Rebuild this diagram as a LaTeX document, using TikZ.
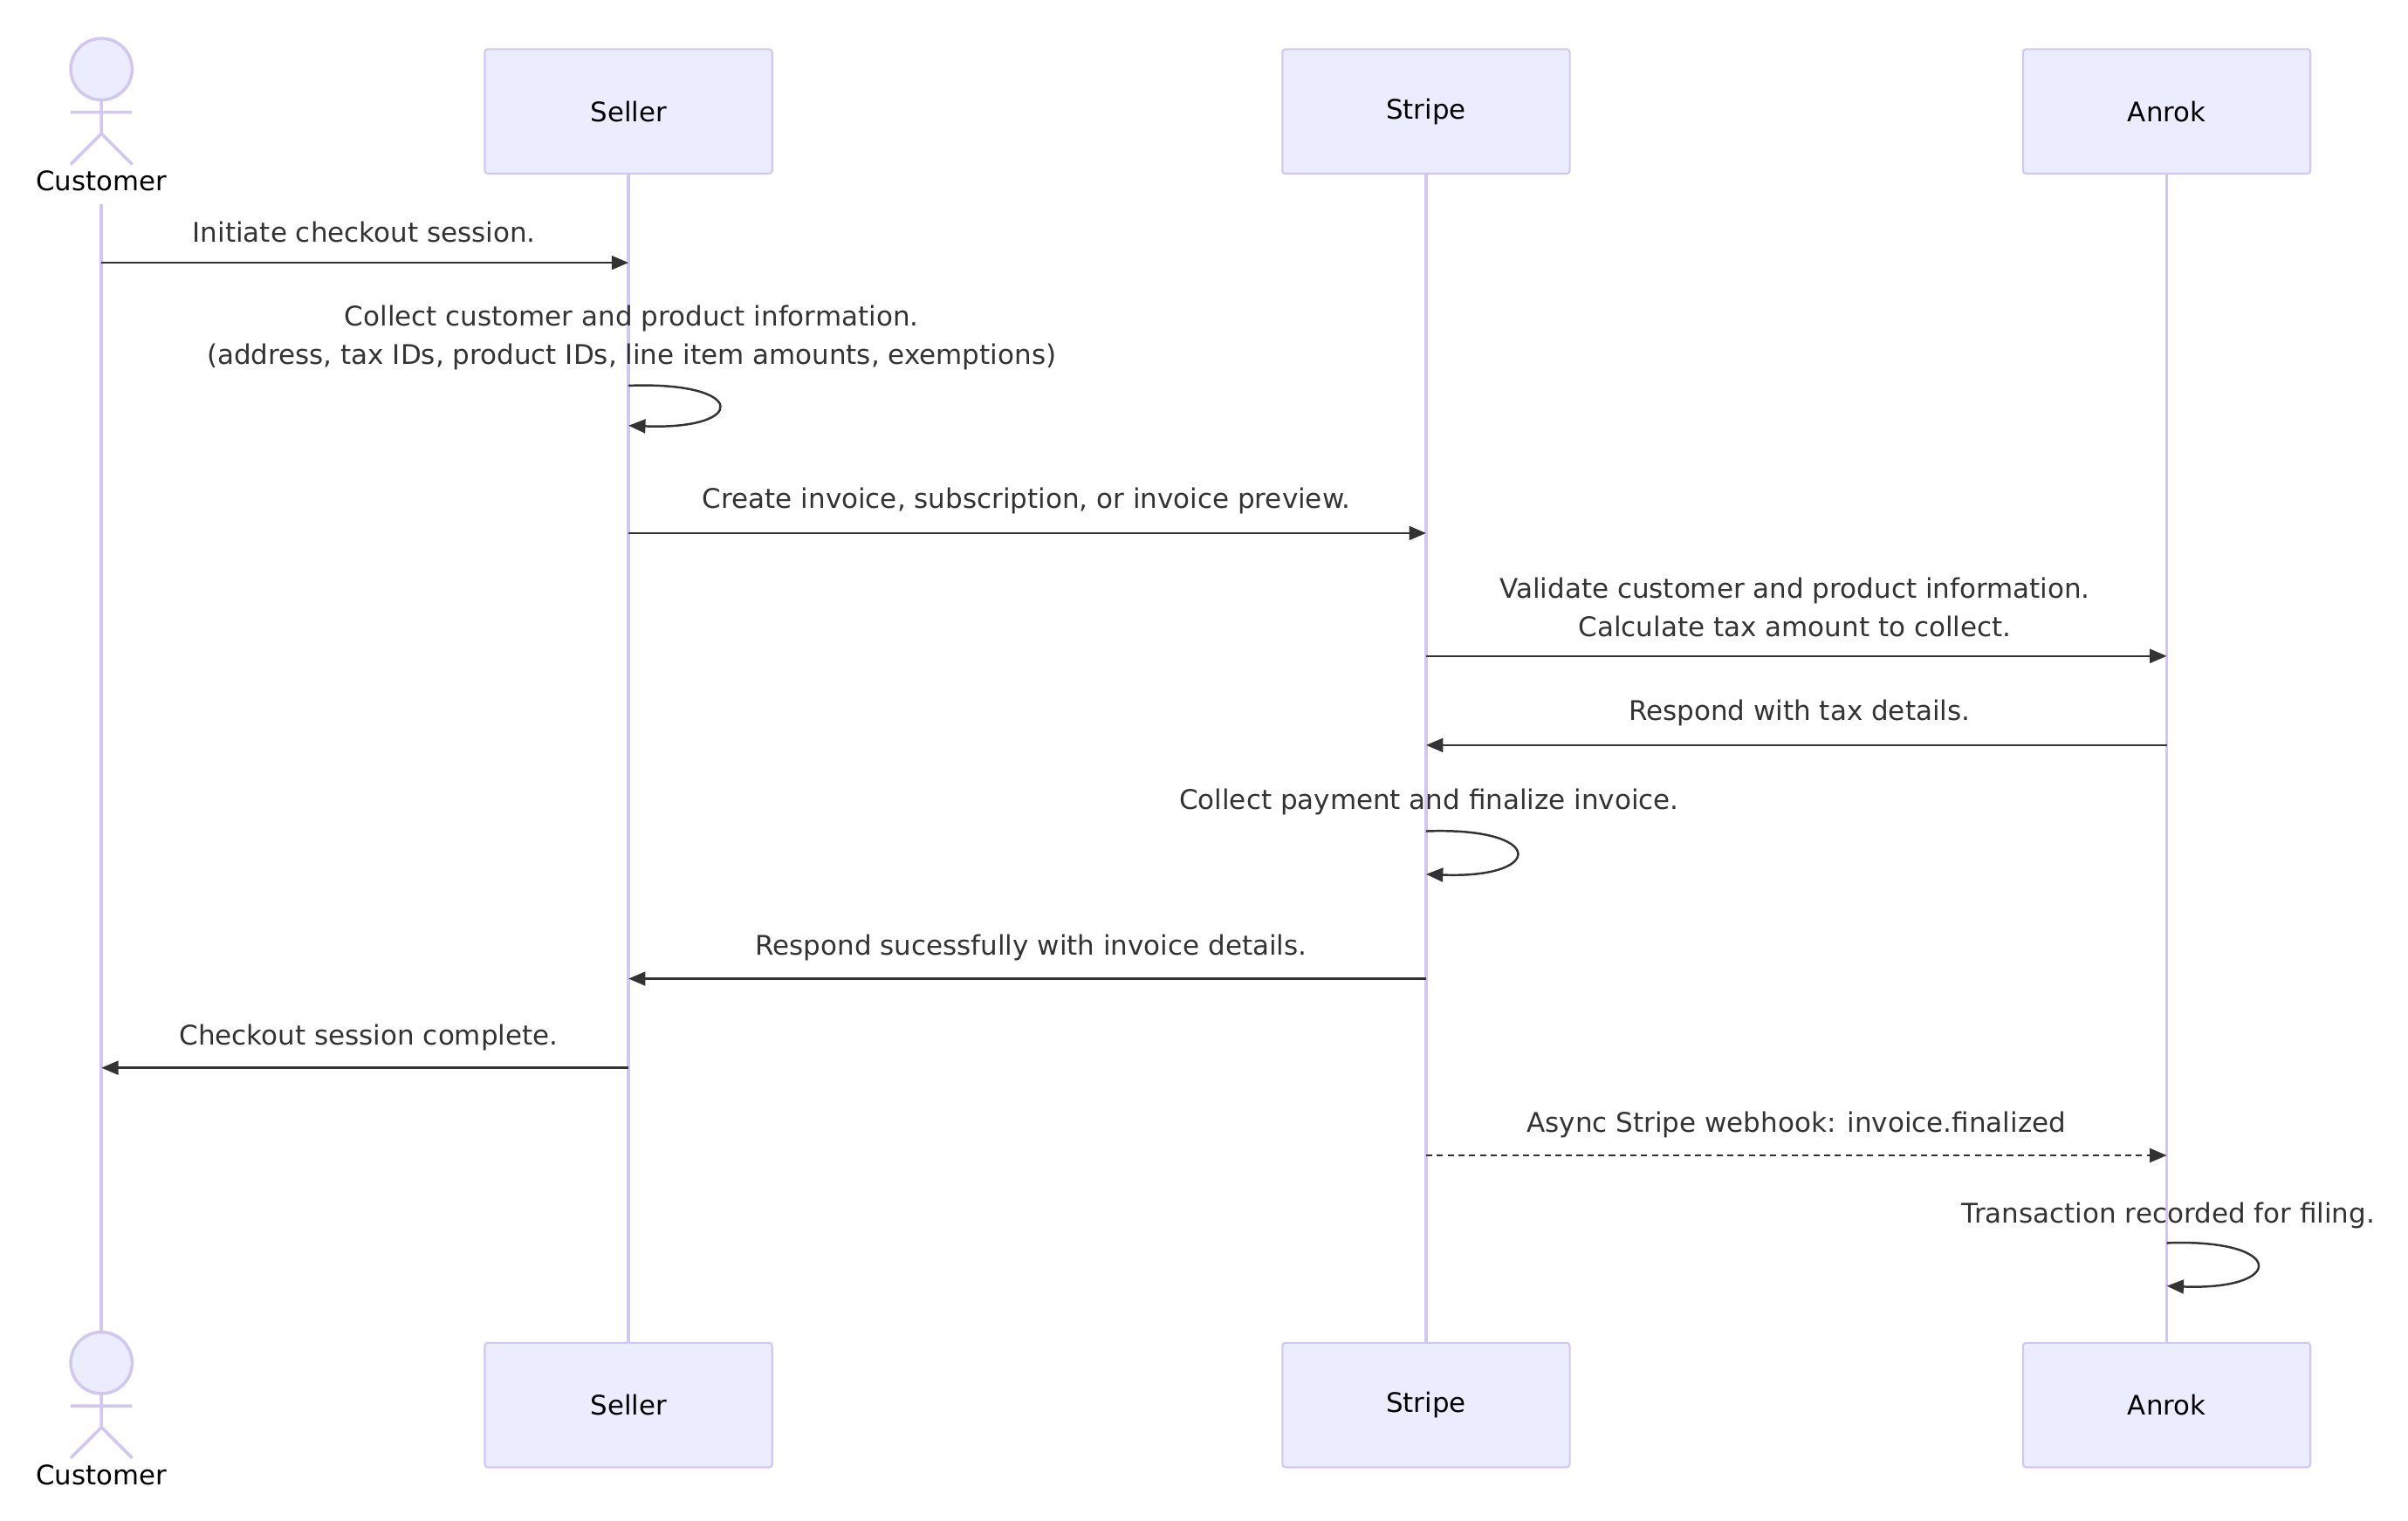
\documentclass[tikz,border=0pt]{standalone}
\usepackage{fontspec}
\setmainfont{DejaVu Sans}
\usetikzlibrary{arrows.meta}
\definecolor{actfill}{HTML}{ECECFF}
\definecolor{actline}{HTML}{D2C6F2}
\definecolor{msg}{HTML}{333333}
\begin{document}
\begin{tikzpicture}[x=1pt,y=-1pt,
  box/.style={draw=actline,fill=actfill,line width=1.2pt,rounded corners=2pt,minimum width=187pt,minimum height=81pt,inner sep=0pt,font=\fontsize{17.5}{20}\selectfont},
  life/.style={draw=actline,line width=2pt},
  m/.style={draw=msg,line width=1.4pt,-{Triangle[length=11pt,width=9pt]}},
  lbl/.style={font=\fontsize{17.6}{25}\selectfont,text=msg,align=center,inner sep=0pt},
  stick/.style={draw=actline,line width=2pt,fill=actfill}]
\useasboundingbox (0,0) rectangle (1567,989.4);
% actors
\foreach \n/\x/\t in {seller/409/Seller,stripe/928/Stripe,anrok/1410/Anrok}{
  \node[box] (\n top) at (\x,72.5) {\t};
  \node[box] (\n bot) at (\x,914.5) {\t};
  \draw[life] (\n top.south) -- (\n bot.north);
}
% customer figures
\foreach \y/\n in {0/ctop,842/cbot}{
  \draw[stick] (66,45+\y) circle (20);
  \draw[stick] (66,65+\y) -- (66,87+\y) (46,73+\y) -- (86,73+\y) (66,87+\y) -- (46,107+\y) (66,87+\y) -- (86,107+\y);
  \node[font=\fontsize{17.5}{20}\selectfont,inner sep=0pt] (\n) at (66,118+\y) {Customer};
}
\coordinate (c1) at (66,133); \coordinate (c2) at (66,867);
\draw[life] (c1) -- (c2);
% message anchors
\foreach \n/\x in {cu/66,se/409,st/928,an/1410}{
  \foreach \y in {171,251,277,347,427,485,541,569,637,695,752,809,837}{
    \coordinate (\n\y) at (\x,\y);}}
\draw[m] (cu171) -- (se171);
\node[lbl] at (237,151) {Initiate checkout session.};
\node[lbl] at (411,220) {Collect customer and product information.\\(address, tax IDs, product IDs, line item amounts, exemptions)};
\draw[m] (se251) .. controls (487,248) and (487,280) .. (se277);
\draw[m] (se347) -- (st347);
\node[lbl] at (668,326) {Create invoice, subscription, or invoice preview.};
\node[lbl] at (1168,395) {Validate customer and product information.\\Calculate tax amount to collect.};
\draw[m] (st427) -- (an427);
\draw[m] (an485) -- (st485);
\node[lbl] at (1171,464) {Respond with tax details.};
\node[lbl] at (930,522) {Collect payment and finalize invoice.};
\draw[m] (st541) .. controls (1006,538) and (1006,572) .. (st569);
\draw[m] (st637) -- (se637);
\node[lbl] at (671,617) {Respond sucessfully with invoice details.};
\draw[m] (se695) -- (cu695);
\node[lbl] at (240,675) {Checkout session complete.};
\draw[m,dash pattern=on 4pt off 3pt] (st752) -- (an752);
\node[lbl] at (1169,732) {Async Stripe webhook: invoice.finalized};
\node[lbl] at (1411,791) {Transaction recorded for filing.};
\draw[m] (an809) .. controls (1488,806) and (1488,840) .. (an837);
\end{tikzpicture}
\end{document}
